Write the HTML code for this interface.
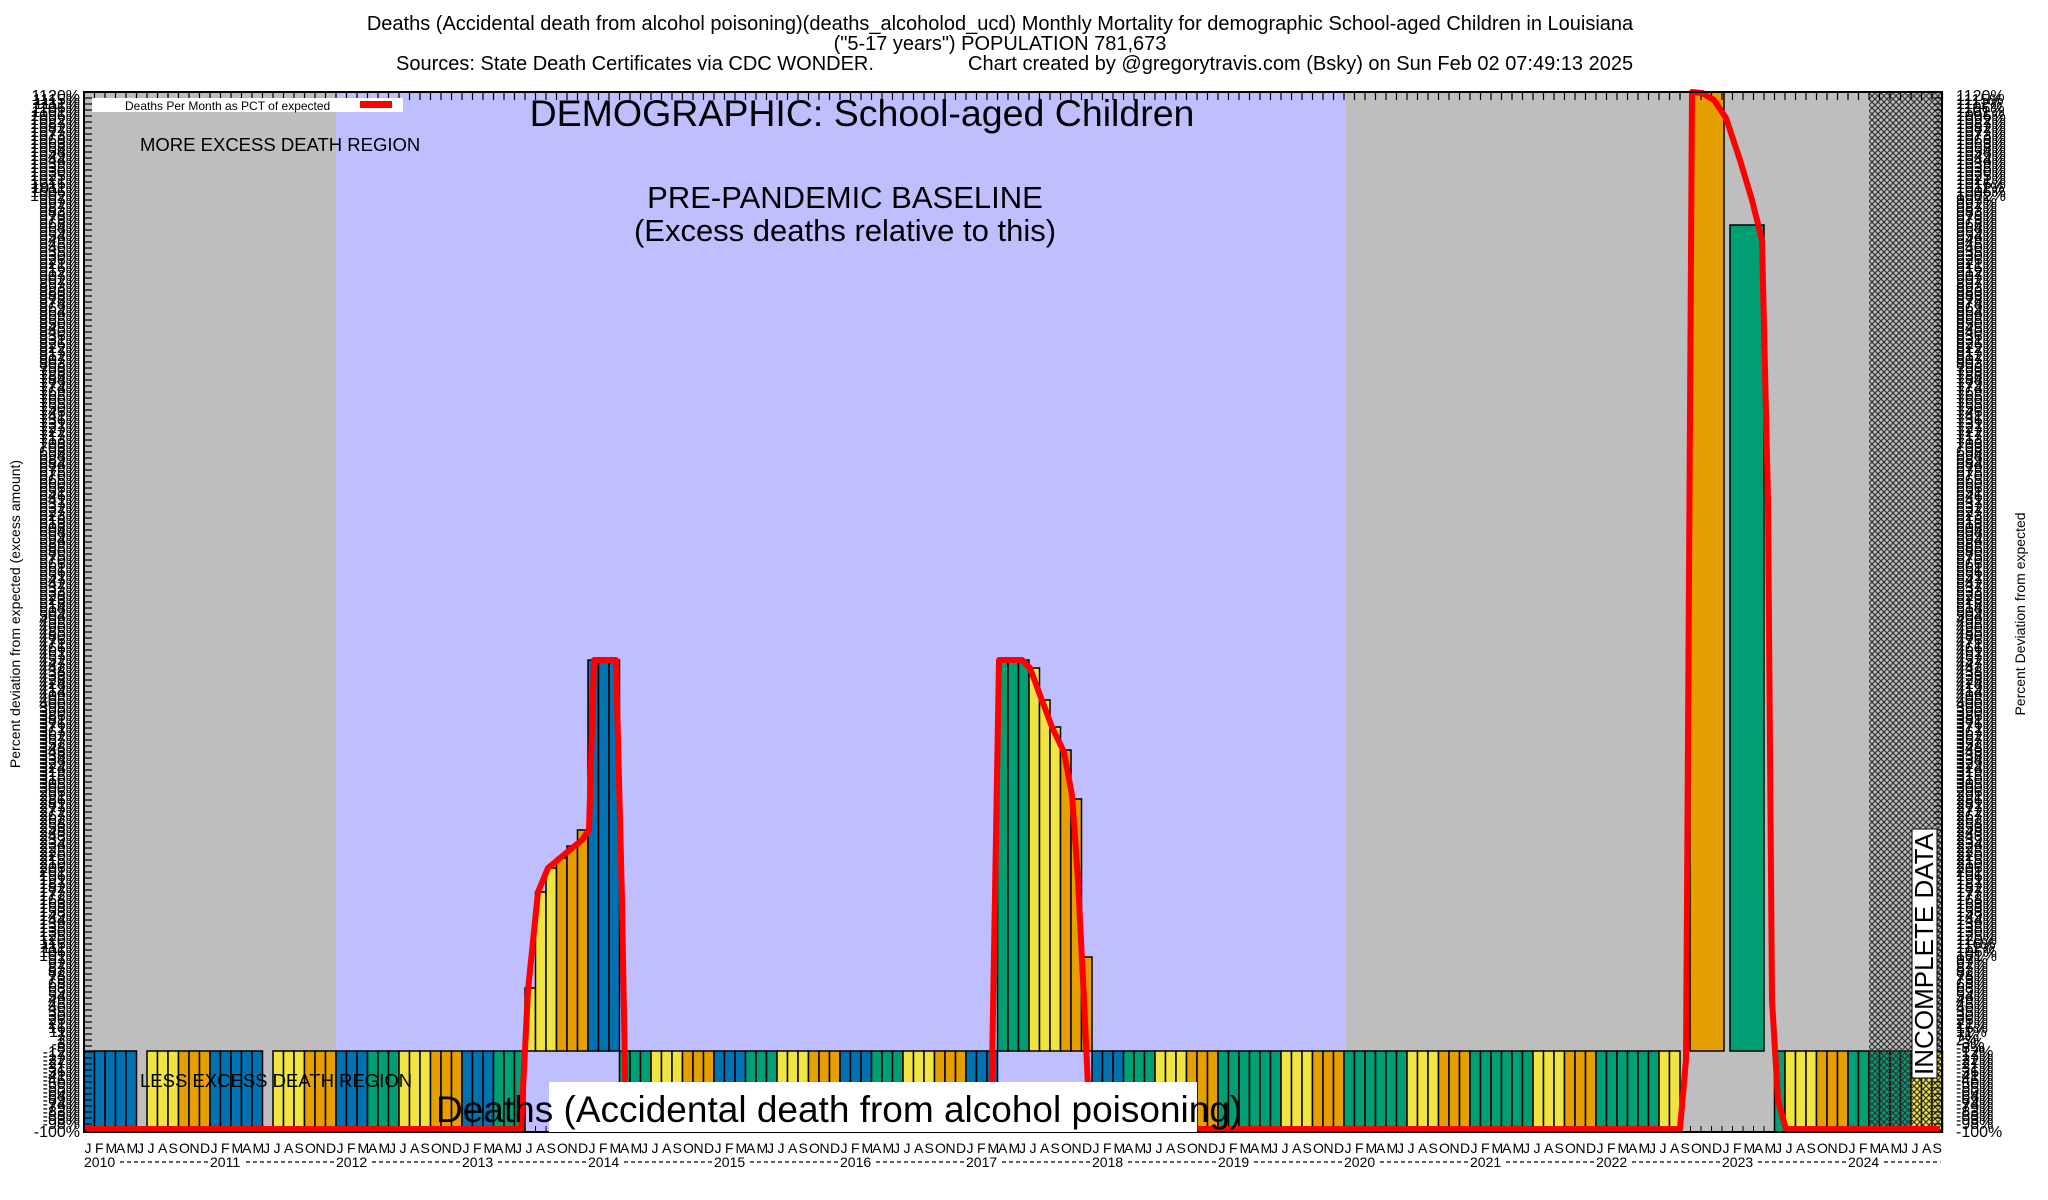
<!DOCTYPE html>
<html><head><meta charset="utf-8">
<style>
html,body{margin:0;padding:0;background:#fff;}
svg{display:block;font-family:"Liberation Sans",Arial,sans-serif;}
</style></head>
<body>
<svg id="s" width="2048" height="1200" viewBox="0 0 2048 1200" xmlns="http://www.w3.org/2000/svg">
<defs>
<pattern id="hatch" width="6" height="6" patternUnits="userSpaceOnUse">
<path d="M0,0 L6,6 M6,0 L0,6" stroke="#333" stroke-width="1.2" fill="none"/>
</pattern>
</defs>
<text x="1000" y="30" font-size="20" text-anchor="middle">Deaths (Accidental death from alcohol poisoning)(deaths_alcoholod_ucd) Monthly Mortality for demographic School-aged Children in Louisiana</text>
<text x="1000" y="50" font-size="20" text-anchor="middle">("5-17 years") POPULATION 781,673</text>
<text x="396" y="70" font-size="20">Sources: State Death Certificates via CDC WONDER.</text>
<text x="968" y="70" font-size="20">Chart created by @gregorytravis.com (Bsky) on Sun Feb 02 07:49:13 2025</text>

<rect x="84" y="92" width="252" height="1040" fill="#bebebe"/>
<rect x="336" y="92" width="1010" height="1040" fill="#bfbfff"/>
<rect x="1346" y="92" width="596" height="1040" fill="#bebebe"/>
<g id="bars"></g>
<rect x="1869" y="92" width="73" height="1040" fill="url(#hatch)"/>
<g id="ticks"></g>
<polyline fill="none" stroke="#f00" stroke-width="6" stroke-linejoin="round" points="86,1129 521,1129 528,990 538,892 548,868 560,858 572,848 582,840 589,830 594,660 616,660 622,900 626,1129 991,1129 999,660 1022,660 1030,668 1040,695 1052,727 1064,752 1072,795 1078,880 1084,1000 1090,1129 1680,1129 1686,1060 1692,92 1702,93 1714,100 1726,118 1740,160 1752,200 1762,240 1768,500 1772,1000 1778,1100 1786,1129 1940,1129"/>
<rect x="84" y="92" width="1858" height="1040" fill="none" stroke="#000" stroke-width="2"/>

<rect x="92" y="98" width="311" height="14" fill="#fff"/>
<text x="125" y="110" font-size="12">Deaths Per Month as PCT of expected</text>
<rect x="360" y="101" width="32" height="7" fill="#f00"/>
<text x="862" y="126" font-size="37.5" text-anchor="middle">DEMOGRAPHIC: School-aged Children</text>
<text x="140" y="151" font-size="18.5">MORE EXCESS DEATH REGION</text>
<text x="845" y="208" font-size="31" text-anchor="middle">PRE-PANDEMIC BASELINE</text>
<text x="845" y="241" font-size="31" text-anchor="middle">(Excess deaths relative to this)</text>
<text x="140" y="1087" font-size="18.5">LESS EXCESS DEATH REGION</text>
<rect x="549" y="1082" width="648" height="50" fill="#fff"/>
<text x="436" y="1122" font-size="37">Deaths (Accidental death from alcohol poisoning)</text>
<rect x="1912" y="829" width="25" height="249" fill="#fff" stroke="#000" stroke-width="1"/>
<text transform="translate(1933,1075) rotate(-90)" font-size="26" textLength="242" lengthAdjust="spacingAndGlyphs">INCOMPLETE DATA</text>

<text transform="translate(20,614) rotate(-90)" font-size="14" text-anchor="middle">Percent deviation from expected (excess amount)</text>
<text transform="translate(2025,614) rotate(-90)" font-size="14" text-anchor="middle">Percent Deviation from expected</text>
<g id="lab"></g>
</svg>
<script>
(function(){
var NS="http://www.w3.org/2000/svg";
function el(p,t,a,txt){var e=document.createElementNS(NS,t);for(var k in a)e.setAttribute(k,a[k]);if(txt!=null)e.textContent=txt;p.appendChild(e);return e;}
var B="#0072b2",G="#009e73",Y="#f0e442",O="#e69f00";
var bars=document.getElementById("bars"),ticks=document.getElementById("ticks"),lab=document.getElementById("lab");
var W=10.5,X0=84;
function color(i){var y=Math.floor(i/12),m=i%12,q=Math.floor(m/3);
 if(y<2){return q<2?B:(q==2?Y:O);}
 if(y<9){return [B,G,Y,O][q];}
 return [G,G,Y,O][q];}
var pos={42:988,43:892,44:868,45:858,46:846,47:830,48:660,49:660,50:660,
 87:660,88:660,89:660,90:668,91:700,92:727,93:750,94:799,95:957};
var skip={5:1,17:1,152:1,153:1,154:1,155:1,156:1,157:1,158:1,159:1,160:1};
for(var i=0;i<177;i++){
 var x=X0+i*W;
 if(pos[i]!==undefined){el(bars,"rect",{x:x,y:pos[i],width:W,height:1051-pos[i],fill:color(i),stroke:"#000","stroke-width":1.5});continue;}
 if(skip[i])continue;
 el(bars,"rect",{x:x,y:1051,width:W,height:81,fill:color(i),stroke:"#000","stroke-width":1.5});
}
el(bars,"rect",{x:1690,y:92,width:34,height:959,fill:O,stroke:"#000","stroke-width":1.5});
el(bars,"rect",{x:1730,y:225,width:34,height:826,fill:G,stroke:"#000","stroke-width":1.5});
for(var i=0;i<=177;i++){var x=X0+i*W;el(ticks,"line",{x1:x,y1:92,x2:x,y2:100,stroke:"#000","stroke-width":1.2});
 el(ticks,"line",{x1:x,y1:1132,x2:x,y2:1126,stroke:"#000","stroke-width":1});}
var mon="JFMAMJJASOND";
for(var y=92;y<=1132;y+=6){
 el(ticks,"line",{x1:84,y1:y,x2:92,y2:y,stroke:"#000","stroke-width":1.2});
 el(ticks,"line",{x1:1942,y1:y,x2:1934,y2:y,stroke:"#000","stroke-width":1.2});
}
for(var y=96;y<=1126;y+=4){
 var v=Math.round(1120-(y-96)/1030*1220);
 el(lab,"text",{x:80,y:y+5,"font-size":16,"text-anchor":"end"},v+"%");
 el(lab,"text",{x:1956,y:y+5,"font-size":16},v+"%");
}
el(lab,"text",{x:80,y:1137,"font-size":16,"text-anchor":"end"},"-100%");
el(lab,"text",{x:1956,y:1137,"font-size":16},"-100%");
for(var i=0;i<177;i++){var x=X0+i*W;
 el(lab,"text",{x:x+0.5,y:1153,"font-size":14},mon[i%12]);}
for(var yr=0;yr<15;yr++){var x=X0+yr*126;
 el(lab,"text",{x:x,y:1167,"font-size":14},(2010+yr)+"");
 var w=(yr==14?9*W:126)-38;
 el(lab,"line",{x1:x+36,y1:1162,x2:x+36+w,y2:1162,stroke:"#000","stroke-width":1.3,"stroke-dasharray":"4,3"});}
})();
</script>
</body></html>
